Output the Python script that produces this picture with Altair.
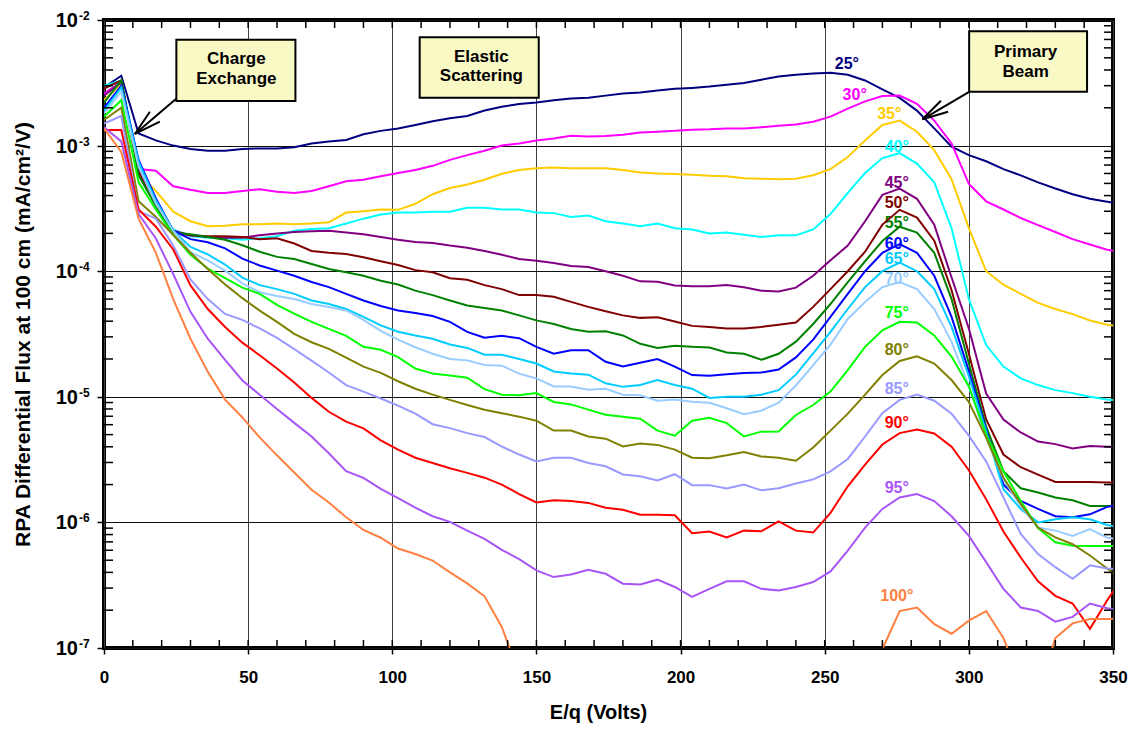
import altair as alt
import pandas as pd

# ---------------- data ----------------
E = [0, 6, 12, 18, 24, 30, 36, 42, 48, 54, 60, 66, 72, 78, 84, 90, 96, 102, 108, 114,
     120, 126, 132, 138, 144, 150, 156, 162, 168, 174, 180, 186, 192, 198, 204, 210, 216, 222, 228, 234,
     240, 246, 252, 258, 264, 270, 276, 282, 288, 294, 300, 306, 312, 318, 324, 330, 336, 342, 348, 354]

F25 = [2.9e-3, 3.6e-3, 1.25e-3, 1.1e-3, 1.0e-3, 9.4e-4, 9.1e-4, 9.1e-4, 9.4e-4, 9.5e-4,
       9.5e-4, 9.7e-4, 1.04e-3, 1.08e-3, 1.11e-3, 1.23e-3, 1.31e-3, 1.37e-3, 1.46e-3, 1.56e-3,
       1.65e-3, 1.72e-3, 1.9e-3, 2.04e-3, 2.14e-3, 2.2e-3, 2.3e-3, 2.37e-3, 2.4e-3, 2.5e-3,
       2.6e-3, 2.65e-3, 2.75e-3, 2.83e-3, 2.88e-3, 2.95e-3, 3.05e-3, 3.15e-3, 3.35e-3, 3.55e-3,
       3.67e-3, 3.75e-3, 3.8e-3, 3.67e-3, 3.3e-3, 2.8e-3, 2.4e-3, 1.9e-3, 1.37e-3, 9.8e-4,
       8.4e-4, 7.5e-4, 6.5e-4, 5.8e-4, 5.1e-4, 4.55e-4, 4.1e-4, 3.77e-4, 3.57e-4, 3.4e-4]
F30 = [2.6e-3, 3.2e-3, 6.5e-4, 6.3e-4, 4.75e-4, 4.45e-4, 4.2e-4, 4.2e-4, 4.35e-4, 4.5e-4,
       4.3e-4, 4.2e-4, 4.35e-4, 4.75e-4, 5.2e-4, 5.35e-4, 5.7e-4, 6.05e-4, 6.4e-4, 6.9e-4,
       7.7e-4, 8.4e-4, 9.1e-4, 1.0e-3, 1.04e-3, 1.1e-3, 1.14e-3, 1.2e-3, 1.18e-3, 1.19e-3,
       1.22e-3, 1.27e-3, 1.29e-3, 1.31e-3, 1.34e-3, 1.35e-3, 1.37e-3, 1.37e-3, 1.4e-3, 1.44e-3,
       1.47e-3, 1.55e-3, 1.7e-3, 1.97e-3, 2.25e-3, 2.48e-3, 2.5e-3, 2.15e-3, 1.58e-3, 1.04e-3,
       4.95e-4, 3.6e-4, 3.1e-4, 2.65e-4, 2.33e-4, 2.05e-4, 1.8e-4, 1.63e-4, 1.48e-4, 1.4e-4]
F35 = [2.3e-3, 3.1e-3, 6.0e-4, 4.35e-4, 2.98e-4, 2.5e-4, 2.28e-4, 2.3e-4, 2.36e-4, 2.36e-4,
       2.4e-4, 2.36e-4, 2.4e-4, 2.45e-4, 2.93e-4, 3.0e-4, 3.1e-4, 3.08e-4, 3.44e-4, 4.1e-4,
       4.6e-4, 4.9e-4, 5.35e-4, 5.97e-4, 6.4e-4, 6.6e-4, 6.7e-4, 6.6e-4, 6.6e-4, 6.6e-4,
       6.4e-4, 6.1e-4, 6.0e-4, 5.95e-4, 5.85e-4, 5.75e-4, 5.7e-4, 5.5e-4, 5.45e-4, 5.4e-4,
       5.45e-4, 5.8e-4, 6.5e-4, 8.1e-4, 1.1e-3, 1.46e-3, 1.58e-3, 1.29e-3, 9.2e-4, 5.4e-4,
       2.2e-4, 1.0e-4, 7.8e-5, 6.6e-5, 5.6e-5, 5.0e-5, 4.55e-5, 4.05e-5, 3.75e-5, 3.6e-5]
F40 = [3.0e-3, 3.3e-3, 7.2e-4, 3.5e-4, 2.15e-4, 1.9e-4, 1.85e-4, 1.83e-4, 1.78e-4, 1.83e-4,
       1.9e-4, 2.1e-4, 2.17e-4, 2.2e-4, 2.4e-4, 2.62e-4, 2.83e-4, 2.93e-4, 2.93e-4, 2.97e-4,
       2.97e-4, 3.2e-4, 3.2e-4, 3.1e-4, 3.1e-4, 2.93e-4, 2.9e-4, 2.7e-4, 2.77e-4, 2.5e-4,
       2.4e-4, 2.28e-4, 2.4e-4, 2.2e-4, 2.15e-4, 2.0e-4, 2.03e-4, 1.95e-4, 1.87e-4, 1.93e-4,
       1.93e-4, 2.15e-4, 2.85e-4, 4.2e-4, 6.05e-4, 7.95e-4, 8.7e-4, 7.2e-4, 5.1e-4, 2.2e-4,
       6.0e-5, 2.58e-5, 1.74e-5, 1.4e-5, 1.24e-5, 1.13e-5, 1.07e-5, 1.0e-5, 9.5e-6, 9.3e-6]
F45 = [2.5e-3, 3.2e-3, 6.4e-4, 3.6e-4, 2.1e-4, 1.93e-4, 1.87e-4, 1.85e-4, 1.85e-4, 1.93e-4,
       2.0e-4, 2.05e-4, 2.08e-4, 2.1e-4, 2.03e-4, 1.97e-4, 1.87e-4, 1.78e-4, 1.71e-4, 1.68e-4,
       1.6e-4, 1.54e-4, 1.45e-4, 1.35e-4, 1.25e-4, 1.21e-4, 1.16e-4, 1.1e-4, 1.08e-4, 1.0e-4,
       9.2e-5, 8.3e-5, 8.25e-5, 7.7e-5, 7.6e-5, 7.6e-5, 7.75e-5, 7.45e-5, 7.0e-5, 6.9e-5,
       7.4e-5, 9.2e-5, 1.22e-4, 1.6e-4, 2.5e-4, 4.05e-4, 4.55e-4, 3.77e-4, 2.35e-4, 8.9e-5,
       3.5e-5, 1.06e-5, 6.6e-6, 5.2e-6, 4.4e-6, 4.2e-6, 3.87e-6, 4.05e-6, 4.0e-6, 4.0e-6]
F50 = [2.85e-3, 3.3e-3, 6.2e-4, 3.3e-4, 2.03e-4, 1.93e-4, 1.9e-4, 1.9e-4, 1.87e-4, 1.8e-4,
       1.83e-4, 1.66e-4, 1.45e-4, 1.4e-4, 1.37e-4, 1.29e-4, 1.2e-4, 1.12e-4, 1.02e-4, 9.8e-5,
       8.8e-5, 8.55e-5, 7.75e-5, 7.2e-5, 6.45e-5, 6.45e-5, 6.25e-5, 5.7e-5, 5.2e-5, 4.8e-5,
       4.45e-5, 4.25e-5, 4.3e-5, 3.98e-5, 3.67e-5, 3.6e-5, 3.5e-5, 3.5e-5, 3.6e-5, 3.75e-5,
       3.9e-5, 5.2e-5, 7.2e-5, 1.0e-4, 1.43e-4, 2.35e-4, 3.08e-4, 2.67e-4, 1.75e-4, 7.05e-5,
       2.2e-5, 6.6e-6, 3.47e-6, 2.75e-6, 2.4e-6, 2.1e-6, 2.1e-6, 2.1e-6, 2.08e-6, 2.08e-6]
F55 = [2.2e-3, 3.3e-3, 5.8e-4, 3.3e-4, 2.03e-4, 1.97e-4, 1.87e-4, 1.78e-4, 1.61e-4, 1.43e-4,
       1.3e-4, 1.25e-4, 1.14e-4, 1.04e-4, 9.8e-5, 9.2e-5, 8.4e-5, 7.83e-5, 7.0e-5, 6.45e-5,
       5.85e-5, 5.34e-5, 5.1e-5, 4.87e-5, 4.45e-5, 4.06e-5, 3.8e-5, 3.47e-5, 3.29e-5, 3.33e-5,
       3.08e-5, 2.64e-5, 2.45e-5, 2.55e-5, 2.5e-5, 2.47e-5, 2.25e-5, 2.2e-5, 1.97e-5, 2.2e-5,
       2.75e-5, 3.8e-5, 5.48e-5, 8.2e-5, 1.2e-4, 1.74e-4, 2.26e-4, 2.03e-4, 1.4e-4, 6.0e-5,
       1.84e-5, 5.79e-6, 2.55e-6, 1.87e-6, 1.73e-6, 1.58e-6, 1.5e-6, 1.35e-6, 1.35e-6, 1.35e-6]
F60 = [2.0e-3, 3.0e-3, 7.7e-4, 3.8e-4, 2.1e-4, 1.8e-4, 1.7e-4, 1.52e-4, 1.26e-4, 1.11e-4,
       1.01e-4, 9.2e-5, 8.2e-5, 7.47e-5, 6.6e-5, 5.85e-5, 5.29e-5, 4.87e-5, 4.64e-5, 4.4e-5,
       3.95e-5, 3.29e-5, 2.95e-5, 3.06e-5, 2.93e-5, 2.5e-5, 2.2e-5, 2.35e-5, 2.35e-5, 1.9e-5,
       1.74e-5, 1.87e-5, 2.0e-5, 1.74e-5, 1.49e-5, 1.47e-5, 1.51e-5, 1.55e-5, 1.56e-5, 1.65e-5,
       2.06e-5, 2.85e-5, 4.33e-5, 6.6e-5, 1.0e-4, 1.4e-4, 1.64e-4, 1.4e-4, 9.2e-5, 4.33e-5,
       1.6e-5, 5.48e-6, 2.0e-6, 1.48e-6, 1.28e-6, 1.12e-6, 1.1e-6, 1.16e-6, 1.33e-6, 1.4e-6]
F65 = [1.9e-3, 2.9e-3, 7.4e-4, 3.65e-4, 2.1e-4, 1.56e-4, 1.36e-4, 1.13e-4, 8.9e-5, 7.75e-5,
       7.2e-5, 6.6e-5, 5.85e-5, 5.48e-5, 5.0e-5, 4.33e-5, 3.7e-5, 3.3e-5, 3.08e-5, 2.9e-5,
       2.61e-5, 2.45e-5, 2.16e-5, 2.16e-5, 2.0e-5, 1.84e-5, 1.59e-5, 1.53e-5, 1.5e-5, 1.28e-5,
       1.2e-5, 1.24e-5, 1.36e-5, 1.24e-5, 1.16e-5, 9.8e-6, 1.0e-5, 1.0e-5, 1.04e-5, 1.13e-5,
       1.5e-5, 2.22e-5, 3.29e-5, 5.0e-5, 7.47e-5, 1.0e-4, 1.17e-4, 1.0e-4, 7.2e-5, 3.6e-5,
       1.45e-5, 5.3e-6, 1.84e-6, 1.28e-6, 1.0e-6, 1.06e-6, 1.1e-6, 1.06e-6, 9.55e-7, 9.0e-7]
F70 = [1.8e-3, 2.7e-3, 6.8e-4, 3.45e-4, 2.1e-4, 1.42e-4, 1.22e-4, 1.01e-4, 8.0e-5, 6.8e-5,
       6.34e-5, 6.0e-5, 5.48e-5, 5.19e-5, 4.87e-5, 4.1e-5, 3.35e-5, 2.85e-5, 2.48e-5, 2.2e-5,
       2.0e-5, 1.95e-5, 1.79e-5, 1.77e-5, 1.53e-5, 1.4e-5, 1.21e-5, 1.21e-5, 1.14e-5, 1.16e-5,
       1.04e-5, 1.03e-5, 9.3e-6, 9.5e-6, 9.15e-6, 8.97e-6, 8.1e-6, 7.28e-6, 7.75e-6, 8.97e-6,
       1.23e-5, 1.79e-5, 2.6e-5, 4.17e-5, 5.68e-5, 7.47e-5, 8.2e-5, 7.2e-5, 5.0e-5, 2.75e-5,
       1.21e-5, 4.73e-6, 2.2e-6, 1.35e-6, 9.1e-7, 8.6e-7, 7.8e-7, 8.85e-7, 7.55e-7, 7.2e-7]
F75 = [1.7e-3, 2.3e-3, 5.1e-4, 3.1e-4, 1.95e-4, 1.35e-4, 1.05e-4, 8.8e-5, 7.4e-5, 6.6e-5,
       5.4e-5, 4.6e-5, 3.95e-5, 3.47e-5, 3.06e-5, 2.5e-5, 2.37e-5, 2.07e-5, 1.68e-5, 1.53e-5,
       1.48e-5, 1.42e-5, 1.15e-5, 1.04e-5, 1.03e-5, 1.07e-5, 9.1e-6, 8.7e-6, 7.9e-6, 7.2e-6,
       6.93e-6, 6.7e-6, 5.38e-6, 4.9e-6, 6.45e-6, 6.8e-6, 6.17e-6, 4.83e-6, 5.28e-6, 5.3e-6,
       7.17e-6, 8.6e-6, 1.1e-5, 1.63e-5, 2.5e-5, 3.38e-5, 3.95e-5, 3.9e-5, 3.08e-5, 2.09e-5,
       1.21e-5, 5.0e-6, 2.55e-6, 1.48e-6, 9.0e-7, 6.95e-7, 6.53e-7, 6.5e-7, 6.5e-7, 6.5e-7]
F80 = [1.6e-3, 2.0e-3, 3.6e-4, 2.7e-4, 1.95e-4, 1.4e-4, 1.04e-4, 7.85e-5, 6.1e-5, 4.85e-5,
       3.95e-5, 3.17e-5, 2.72e-5, 2.41e-5, 2.05e-5, 1.74e-5, 1.55e-5, 1.33e-5, 1.16e-5, 1.04e-5,
       9.45e-6, 8.6e-6, 7.9e-6, 7.4e-6, 6.95e-6, 6.45e-6, 5.38e-6, 5.38e-6, 4.83e-6, 4.64e-6,
       4.02e-6, 4.25e-6, 4.14e-6, 3.8e-6, 3.27e-6, 3.24e-6, 3.42e-6, 3.64e-6, 3.35e-6, 3.27e-6,
       3.1e-6, 3.95e-6, 5.38e-6, 7.34e-6, 1.04e-5, 1.49e-5, 1.93e-5, 2.1e-5, 1.84e-5, 1.36e-5,
       9.1e-6, 4.73e-6, 2.27e-6, 1.4e-6, 9.1e-7, 7.6e-7, 6.7e-7, 5.45e-7, 4.3e-7, 3.4e-7]
F85 = [1.5e-3, 1.72e-3, 3.0e-4, 2.62e-4, 1.6e-4, 8.6e-5, 6.0e-5, 4.57e-5, 4.1e-5, 3.5e-5,
       2.95e-5, 2.4e-5, 1.94e-5, 1.56e-5, 1.24e-5, 1.1e-5, 9.7e-6, 8.5e-6, 7.34e-6, 6.05e-6,
       5.63e-6, 5.14e-6, 4.78e-6, 4.02e-6, 3.47e-6, 3.06e-6, 3.27e-6, 3.27e-6, 2.97e-6, 2.8e-6,
       2.41e-6, 2.33e-6, 2.16e-6, 2.42e-6, 1.98e-6, 1.98e-6, 1.86e-6, 2.0e-6, 1.8e-6, 1.87e-6,
       2.04e-6, 2.2e-6, 2.55e-6, 3.2e-6, 4.83e-6, 7.4e-6, 9.45e-6, 1.04e-5, 9.3e-6, 7.34e-6,
       4.9e-6, 3.06e-6, 1.58e-6, 8.1e-7, 5.6e-7, 4.4e-7, 3.56e-7, 4.55e-7, 4.3e-7, 4.2e-7]
F90 = [1.33e-3, 1.33e-3, 3.1e-4, 2.26e-4, 1.49e-4, 7.7e-5, 5.0e-5, 3.6e-5, 2.7e-5, 2.14e-5,
       1.68e-5, 1.3e-5, 9.8e-6, 7.6e-6, 6.35e-6, 5.6e-6, 4.5e-6, 3.8e-6, 3.27e-6, 2.97e-6,
       2.7e-6, 2.48e-6, 2.27e-6, 2.0e-6, 1.68e-6, 1.44e-6, 1.5e-6, 1.48e-6, 1.43e-6, 1.31e-6,
       1.26e-6, 1.15e-6, 1.15e-6, 1.14e-6, 8.2e-7, 8.45e-7, 7.6e-7, 8.6e-7, 8.5e-7, 1.02e-6,
       8.6e-7, 8.3e-7, 1.19e-6, 1.94e-6, 2.88e-6, 4.17e-6, 5.14e-6, 5.48e-6, 5.1e-6, 4.0e-6,
       2.6e-6, 1.53e-6, 8.45e-7, 5.25e-7, 3.4e-7, 2.6e-7, 2.26e-7, 1.42e-7, 2.4e-7, 3.85e-7]
F95 = [1.4e-3, 1.08e-3, 2.85e-4, 1.82e-4, 9.5e-5, 4.75e-5, 2.9e-5, 1.97e-5, 1.35e-5, 1.04e-5,
       8.0e-6, 6.2e-6, 4.83e-6, 3.55e-6, 2.56e-6, 2.26e-6, 1.85e-6, 1.56e-6, 1.31e-6, 1.12e-6,
       1.01e-6, 8.6e-7, 7.4e-7, 6.05e-7, 5.1e-7, 4.15e-7, 3.67e-7, 3.85e-7, 4.2e-7, 3.9e-7,
       3.25e-7, 3.2e-7, 3.5e-7, 3.06e-7, 2.55e-7, 2.96e-7, 3.4e-7, 3.4e-7, 2.96e-7, 2.87e-7,
       3.06e-7, 3.35e-7, 4.07e-7, 5.95e-7, 9.1e-7, 1.28e-6, 1.58e-6, 1.68e-6, 1.48e-6, 1.12e-6,
       7.8e-7, 4.83e-7, 2.96e-7, 2.1e-7, 1.97e-7, 1.62e-7, 1.77e-7, 2.26e-7, 2.07e-7, 2.0e-7]
# values below 1e-7 fall off the bottom of the axis (clipped)
F100 = [1.37e-3, 8.9e-4, 2.62e-4, 1.4e-4, 6.0e-5, 2.9e-5, 1.58e-5, 9.5e-6, 6.85e-6, 4.75e-6,
        3.42e-6, 2.5e-6, 1.82e-6, 1.44e-6, 1.1e-6, 8.7e-7, 7.55e-7, 6.2e-7, 5.6e-7, 4.97e-7,
        4.0e-7, 3.27e-7, 2.58e-7, 1.47e-7, 6.2e-8, 3e-8, 3e-8, 3e-8, 3e-8, 3e-8,
        3e-8, 3e-8, 3e-8, 3e-8, 3e-8, 3e-8, 3e-8, 3e-8, 3e-8, 3e-8,
        3e-8, 3e-8, 3e-8, 3e-8, 3e-8, 9.8e-8, 1.97e-7, 2.1e-7, 1.55e-7, 1.3e-7,
        1.65e-7, 1.97e-7, 1.2e-7, 5.4e-8, 4.3e-8, 1.2e-7, 1.57e-7, 1.7e-7, 1.7e-7, 1.72e-7]

ANGLES = [25, 30, 35, 40, 45, 50, 55, 60, 65, 70, 75, 80, 85, 90, 95, 100]
SERIES = [F25, F30, F35, F40, F45, F50, F55, F60, F65, F70, F75, F80, F85, F90, F95, F100]
COLORS = ["#000080", "#FF00FF", "#FFCC00", "#00FFFF", "#800080", "#800000", "#008000", "#0000FF",
          "#00CCFF", "#99CCFF", "#00FF00", "#808000", "#9999FF", "#FF0000", "#A855F7", "#FF8040"]

# curve labels (placed in data coordinates next to the peaks)
LABEL_TEXT = ["25°", "30°", "35°", "40°", "45°", "50°", "55°", "60°",
              "65°", "70°", "75°", "80°", "85°", "90°", "95°", "100°"]
LABEL_X = [257.7, 260.4, 272.4, 275, 275, 275, 275, 275, 275, 275, 275, 275, 275, 275, 275, 275]
LABEL_Y = [4.49e-3, 2.51e-3, 1.77e-3, 9.7e-4, 5.04e-4, 3.5e-4, 2.43e-4, 1.66e-4,
           1.24e-4, 8.7e-5, 4.67e-5, 2.36e-5, 1.16e-5, 6.2e-6, 1.88e-6, 2.58e-7]

XMAJOR = [0, 50, 100, 150, 200, 250, 300, 350]
XMINOR = [10, 20, 30, 40, 50, 60, 70, 80, 90, 100, 110, 120, 130, 140, 150, 160, 170, 180, 190,
          200, 210, 220, 230, 240, 250, 260, 270, 280, 290, 300, 310, 320, 330, 340]
YMAJOR = [1e-7, 1e-6, 1e-5, 1e-4, 1e-3, 1e-2]
YEXP = ["-7", "-6", "-5", "-4", "-3", "-2"]
YMINOR = [2e-7, 3e-7, 4e-7, 5e-7, 6e-7, 7e-7, 8e-7, 9e-7,
          2e-6, 3e-6, 4e-6, 5e-6, 6e-6, 7e-6, 8e-6, 9e-6,
          2e-5, 3e-5, 4e-5, 5e-5, 6e-5, 7e-5, 8e-5, 9e-5,
          2e-4, 3e-4, 4e-4, 5e-4, 6e-4, 7e-4, 8e-4, 9e-4,
          2e-3, 3e-3, 4e-3, 5e-3, 6e-3, 7e-3, 8e-3, 9e-3]

# annotation boxes and arrows (data coordinates)
BOX_X1 = [25.1, 109.5, 300.1]
BOX_X2 = [66.4, 150.8, 341.0]
BOX_Y1 = [6.95e-3, 7.3e-3, 8.14e-3]
BOX_Y2 = [2.27e-3, 2.4e-3, 2.68e-3]
BOX_TEXT = ["Charge", "Exchange", "Elastic", "Scattering", "Primary", "Beam"]
BOX_TX = [45.9, 45.9, 130.9, 130.9, 319.7, 319.7]
BOX_TY = [4.87e-3, 3.38e-3, 5.1e-3, 3.57e-3, 5.6e-3, 3.89e-3]
ARROW_X1 = [25.14, 10.72, 10.72, 300.1, 283.9, 283.9]
ARROW_Y1 = [2.371e-3, 1.238e-3, 1.238e-3, 2.68e-3, 1.62e-3, 1.62e-3]
ARROW_X2 = [10.72, 15.91, 19.37, 283.9, 290.3, 292.8]
ARROW_Y2 = [1.238e-3, 1.862e-3, 1.552e-3, 1.62e-3, 2.275e-3, 1.862e-3]

# ---------------- tables ----------------
rows = []
for ang, vals in zip(ANGLES, SERIES):
    for e, v in zip(E, vals):
        rows.append({"E": e, "flux": v, "angle": ang})
df = pd.DataFrame(rows)
lab_df = pd.DataFrame({"angle": ANGLES, "txt": LABEL_TEXT, "lx": LABEL_X, "ly": LABEL_Y})
xmin_df = pd.DataFrame({"t": XMINOR})
ymin_df = pd.DataFrame({"m": YMINOR})
ylab_df = pd.DataFrame({"v": YMAJOR, "base": ["10"] * len(YMAJOR), "exp": YEXP})
box_df = pd.DataFrame({"x1": BOX_X1, "x2": BOX_X2, "y1": BOX_Y1, "y2": BOX_Y2})
btxt_df = pd.DataFrame({"t": BOX_TEXT, "x": BOX_TX, "y": BOX_TY})
arr_df = pd.DataFrame({"x1": ARROW_X1, "y1": ARROW_Y1, "x2": ARROW_X2, "y2": ARROW_Y2})

# ---------------- chart ----------------
W, H = 1009, 628
FONT = "Liberation Sans, Arial, Helvetica, sans-serif"
xsc = alt.Scale(domain=[0, 350], nice=False, zero=False)
ysc = alt.Scale(type="log", domain=[1e-7, 1e-2], nice=False)
csc = alt.Scale(domain=ANGLES, range=COLORS)

XAXIS = alt.Axis(
    values=XMAJOR, grid=True, gridColor="#404040", gridWidth=1, domain=False,
    ticks=True, tickSize=6, tickWidth=1.5, tickColor="#000",
    labelFont=FONT, labelFontSize=17, labelFontWeight="bold", labelColor="#000",
    labelPadding=15, labelFlush=False,
    title="E/q (Volts)", titleFont=FONT, titleFontSize=20, titleFontWeight="bold",
    titleColor="#000", titleX=494, titleY=64, titleBaseline="middle")
YAXIS = alt.Axis(
    values=YMAJOR, grid=True, gridColor="#111", gridWidth=1, domain=False,
    labels=False, ticks=True, tickSize=7, tickWidth=1.5, tickColor="#000",
    title="RPA Differential Flux at 100 cm (mA/cm²/V)", titleFont=FONT,
    titleFontSize=21, titleFontWeight="bold", titleColor="#000",
    titleX=-81, titleY=H / 2, titleAngle=270, titleBaseline="middle", titleAlign="center")

labels = alt.Chart(lab_df).mark_text(font=FONT, fontSize=16, fontWeight="bold",
                                     align="center", baseline="middle").encode(
    x=alt.X("lx:Q", scale=xsc, axis=XAXIS),
    y=alt.Y("ly:Q", scale=ysc, axis=YAXIS),
    text="txt:N",
    color=alt.Color("angle:O", scale=csc, legend=None),
)

lines = alt.Chart(df).mark_line(strokeWidth=2, clip=True).encode(
    x=alt.X("E:Q", scale=xsc, axis=XAXIS),
    y=alt.Y("flux:Q", scale=ysc, axis=YAXIS),
    color=alt.Color("angle:O", scale=csc, legend=None),
    order=alt.Order("E:Q"),
)

xt_bottom = alt.Chart(xmin_df).mark_rule(color="#000", strokeWidth=1.5).encode(
    x=alt.X("t:Q", scale=xsc, axis=XAXIS), y=alt.value(H), y2=alt.value(H - 8))
xt_top = alt.Chart(xmin_df).mark_rule(color="#000", strokeWidth=1.5).encode(
    x=alt.X("t:Q", scale=xsc, axis=XAXIS), y=alt.value(0), y2=alt.value(8))
yt_left = alt.Chart(ymin_df).mark_rule(color="#000", strokeWidth=1.5).encode(
    y=alt.Y("m:Q", scale=ysc, axis=YAXIS), x=alt.value(0), x2=alt.value(9))
yt_right = alt.Chart(ymin_df).mark_rule(color="#000", strokeWidth=1.5).encode(
    y=alt.Y("m:Q", scale=ysc, axis=YAXIS), x=alt.value(W), x2=alt.value(W - 9))

boxes = alt.Chart(box_df).mark_rect(fill="#F9F9C6", stroke="#000", strokeWidth=2).encode(
    x=alt.X("x1:Q", scale=xsc, axis=XAXIS), x2="x2:Q",
    y=alt.Y("y1:Q", scale=ysc, axis=YAXIS), y2="y2:Q")
box_text = alt.Chart(btxt_df).mark_text(font=FONT, fontSize=17, fontWeight="bold",
                                        color="#000", align="center", baseline="middle").encode(
    x=alt.X("x:Q", scale=xsc, axis=XAXIS), y=alt.Y("y:Q", scale=ysc, axis=YAXIS), text="t:N")
arrows = alt.Chart(arr_df).mark_rule(color="#000", strokeWidth=2).encode(
    x=alt.X("x1:Q", scale=xsc, axis=XAXIS), x2="x2:Q",
    y=alt.Y("y1:Q", scale=ysc, axis=YAXIS), y2="y2:Q")

ylab_base = alt.Chart(ylab_df).mark_text(font=FONT, fontSize=20, fontWeight="bold", color="#000",
                                         align="right", baseline="middle", dx=-26, dy=1).encode(
    y=alt.Y("v:Q", scale=ysc, axis=YAXIS), x=alt.value(0), text="base:N")
ylab_exp = alt.Chart(ylab_df).mark_text(font=FONT, fontSize=12, fontWeight="bold", color="#000",
                                        align="left", baseline="middle", dx=-25, dy=-4).encode(
    y=alt.Y("v:Q", scale=ysc, axis=YAXIS), x=alt.value(0), text="exp:N")

chart = alt.layer(
    labels, lines, xt_bottom, xt_top, yt_left, yt_right, boxes, box_text, arrows, ylab_base, ylab_exp
).properties(
    width=W, height=H,
    autosize=alt.AutoSizeParams(type="none"),
    padding={"left": 96, "top": 12, "right": 15, "bottom": 77},
).configure_view(stroke="#000", strokeWidth=4)

chart.save("out.html", embed_options={"renderer": "svg", "actions": False})
